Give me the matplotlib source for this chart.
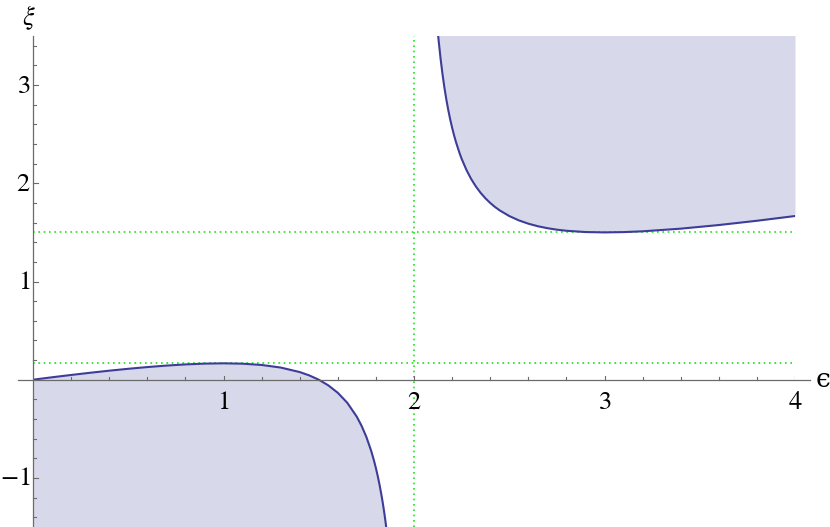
import numpy as np
import matplotlib.pyplot as plt

# ---- data ----
# lower-left branch (filled below the curve)
eps_left = [0.0, 0.1, 0.2, 0.3, 0.4, 0.5, 0.6, 0.7, 0.8, 0.9, 1.0, 1.1, 1.2,
            1.3, 1.4, 1.45, 1.5, 1.55, 1.6, 1.65, 1.7, 1.725, 1.75, 1.775,
            1.79, 1.8, 1.81, 1.82, 1.83, 1.835, 1.84, 1.845, 1.85, 1.86]
xi_left = [0.0, 0.0246, 0.0481, 0.0706, 0.0917, 0.1111, 0.1286, 0.1436,
           0.1556, 0.1636, 0.1667, 0.1630, 0.15, 0.1238, 0.0778, 0.0439, 0.0,
           -0.0574, -0.1333, -0.2357, -0.3778, -0.4705, -0.5833, -0.7231,
           -0.824, -0.9, -0.9844, -1.0785, -1.1841, -1.2419, -1.3033,
           -1.3689, -1.4389, -1.594]

# upper-right branch (filled above the curve)
eps_right = [2.12, 2.125, 2.13, 2.14, 2.15, 2.16, 2.17, 2.18, 2.19, 2.2,
             2.21, 2.22, 2.24, 2.25, 2.275, 2.3, 2.325, 2.35, 2.375, 2.4,
             2.425, 2.45, 2.5, 2.55, 2.6, 2.65, 2.7, 2.75, 2.8, 2.9, 3.0,
             3.1, 3.2, 3.4, 3.6, 3.8, 4.0]
xi_right = [3.651, 3.5417, 3.441, 3.261, 3.106, 2.970, 2.851, 2.745, 2.651,
            2.567, 2.4906, 2.422, 2.3022, 2.25, 2.137, 2.044, 1.967, 1.902,
            1.847, 1.8, 1.759, 1.724, 1.6667, 1.6227, 1.589, 1.5628, 1.543,
            1.5278, 1.5167, 1.5037, 1.5, 1.503, 1.5111, 1.5381, 1.575,
            1.6185, 1.6667]

# dotted guide lines
guide_x = [2.0]
guide_y = [1.5, 0.1667]

x_major = [1, 2, 3, 4]
y_major = [-1, 1, 2, 3]

XMIN, XMAX = 0.0, 4.0
YMIN, YMAX = -1.5, 3.5

line_col = (0.24, 0.24, 0.6)
fill_col = (0.848, 0.848, 0.92)
axis_col = (0.42, 0.42, 0.42)
green = (0.1, 0.9, 0.1)

plt.rcParams['font.family'] = ['DejaVu Serif']
plt.rcParams['mathtext.fontset'] = 'stix'

fig = plt.figure(figsize=(8.3, 5.27), dpi=100)
ax = fig.add_axes([33 / 830, 0.0, 762 / 830, 491 / 527])
ax.set_xlim(XMIN, XMAX)
ax.set_ylim(YMIN, YMAX)
for s in ax.spines.values():
    s.set_visible(False)
ax.set_xticks([])
ax.set_yticks([])

ax.fill_between(eps_left, xi_left, YMIN, color=fill_col, lw=0, zorder=1)
ax.fill_between(eps_right, xi_right, YMAX + 1, color=fill_col, lw=0, zorder=1)
ax.plot(eps_left, xi_left, color=line_col, lw=1.5, zorder=3)
ax.plot(eps_right, xi_right, color=line_col, lw=1.5, zorder=3)

for gx in guide_x:
    ax.plot([gx, gx], [YMIN, YMAX], color=green, lw=1.2, dashes=(1, 2.2), zorder=2)
for gy in guide_y:
    ax.plot([XMIN, XMAX], [gy, gy], color=green, lw=1.2, dashes=(1, 2.2), zorder=2)

# Mathematica-style axes crossing at the origin
ax.plot([-0.08, 4.08], [0, 0], color=axis_col, lw=0.9, clip_on=False, zorder=4)
ax.plot([0, 0], [YMIN, YMAX], color=axis_col, lw=0.9, clip_on=False, zorder=4)

# ticks: x ticks point up, y ticks point right
px_x = (XMAX - XMIN) / 762
px_y = (YMAX - YMIN) / 491
for v in np.arange(0.2, 4.01, 0.2):
    major = abs(v - round(v)) < 1e-6
    h = (4 if major else 2.5) * px_y
    ax.plot([v, v], [0, h], color=axis_col, lw=0.8, zorder=4)
for v in np.arange(-1.4, 3.51, 0.2):
    if abs(v) < 1e-6:
        continue
    major = abs(v - round(v)) < 1e-6
    w = (4.5 if major else 2.5) * px_x
    ax.plot([0, w], [v, v], color=axis_col, lw=0.8, clip_on=False, zorder=4)

for v in x_major:
    ax.text(v, -9 * px_y, '$%d$' % v, ha='center', va='top', fontsize=19)
for v in y_major:
    ax.text(-3 * px_x, v, '$%d$' % v, ha='right', va='center', fontsize=19)

ax.text(4.11, 0, '\u03f5', ha='left', va='center', fontsize=19,
        family='DejaVu Serif', clip_on=False)
ax.text(-0.02, YMAX + 18 * px_y, r'$\xi$', ha='center', va='center',
        fontsize=19, clip_on=False)

fig.savefig('out.png', dpi=100)
